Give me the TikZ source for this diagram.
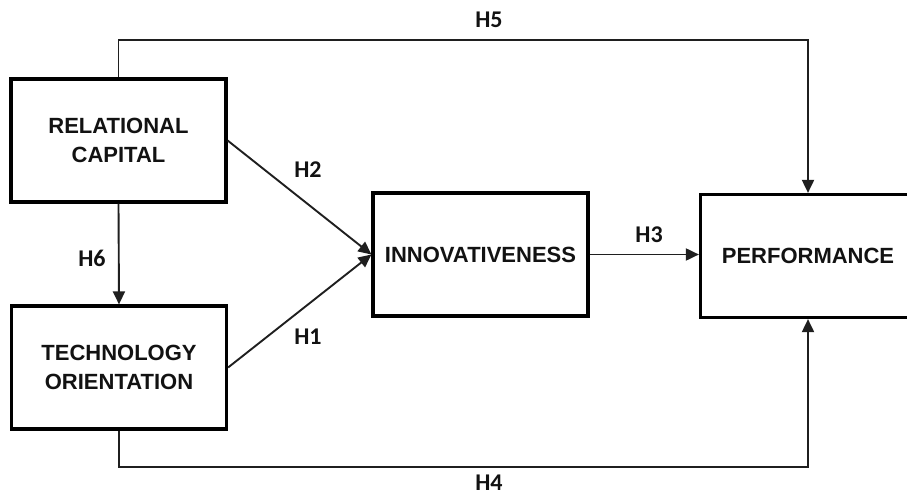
\documentclass[tikz,border=0pt]{standalone}
\usepackage{fontspec}
\setmainfont{Liberation Sans}
\newfontfamily\hfont{Carlito}
\usetikzlibrary{arrows.meta}
\begin{document}
\begin{tikzpicture}[x=1pt,y=-1pt,
  construct/.style={draw=black,line width=3.2pt,fill=white,
    minimum width=215pt,minimum height=123pt,inner sep=0pt,
    align=center,text=black!93,
    font=\fontsize{22}{29}\selectfont\bfseries},
  link/.style={draw=black!88,line width=1.9pt,
    -{Triangle[length=13pt,width=12pt]}},
  hyp/.style={text=black!93,inner sep=0pt,
    font=\hfont\fontsize{24}{24}\selectfont\bfseries}]
\useasboundingbox (0,0) rectangle (907,497);
\clip (0,0) rectangle (907,497);

% constructs
\node[construct] (rc)   at (118.5,140.5) {RELATIONAL\\CAPITAL};
\node[construct] (to)   at (119,367.5)   {TECHNOLOGY\\ORIENTATION};
\node[construct] (inn)  at (480.5,254.5) {INNOVATIVENESS};
\node[construct] (perf) at (808,256)     {PERFORMANCE};

% routing levels for the long paths
\coordinate (top) at (0,40);
\coordinate (bot) at (0,467);

% hypothesised paths
\draw[link] (rc.north) -- (rc.north |- top) -- (perf.north |- top) -- (perf.north);
\draw[link] (to.south) -- (to.south |- bot) -- (perf.south |- bot) -- (perf.south);
\draw[link] (rc.south) -- (to.north);
\draw[link] (rc.east) -- (inn.west);
\draw[link] (to.east) -- (inn.west);
\draw[link] (inn.east) -- (inn.east -| perf.west);

% path labels
\node[hyp] (h5) at (489,20)  {H5};
\node[hyp] (h2) at (308,170) {H2};
\node[hyp] (h6) at (92,258)  {H6};
\node[hyp] (h1) at (308,337) {H1};
\node[hyp] (h3) at (649,235) {H3};
\node[hyp] (h4) at (489,483) {H4};
\end{tikzpicture}
\end{document}
